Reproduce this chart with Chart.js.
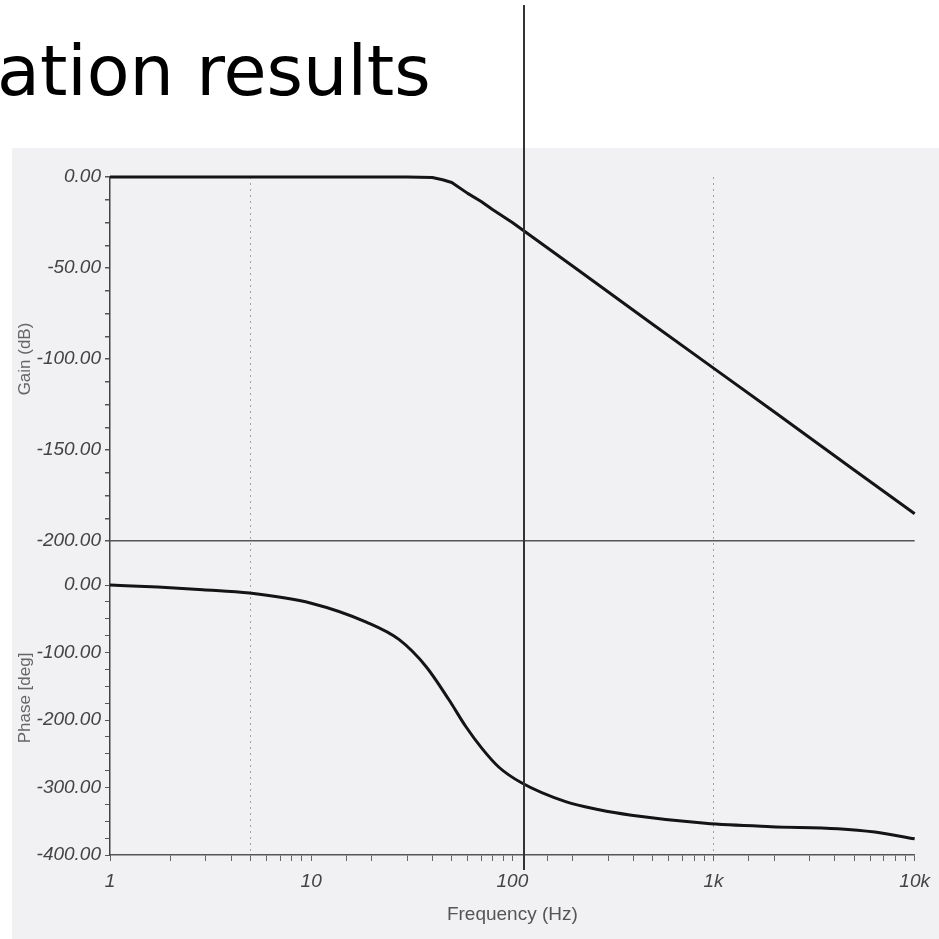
<!DOCTYPE html>
<html>
<head>
<meta charset="utf-8">
<script src="https://cdn.jsdelivr.net/npm/chart.js@4.4.1/dist/chart.umd.min.js"></script>
<style>
  html, body { margin:0; padding:0; background:#ffffff; width:939px; height:939px; overflow:hidden; }
  #scan { position:absolute; left:12px; top:148px; width:927px; height:791px; background:#f1f1f3; }
  #title { position:absolute; left:-3px; top:36px; font-family:'DejaVu Sans', sans-serif; font-size:70px; line-height:1; color:#000; white-space:nowrap; }
  #marker { position:absolute; left:523px; top:5px; width:1.5px; height:865px; background:#333; }
  #wrap { position:absolute; left:0; top:0; width:939px; height:939px; }
</style>
</head>
<body>
<div id="scan"></div>
<div id="title">ation results</div>
<div id="wrap"><canvas id="c" width="939" height="939"></canvas></div>
<div id="marker"></div>
<script>
// ---- data ----
const freqGain  = [1, 2, 5, 10, 20, 30, 40, 45, 50, 60, 70, 80, 100, 200, 500, 1000, 2000, 5000, 10000];
const gainDb    = [0, 0, 0, 0, 0, 0, -0.3, -1.5, -3, -9, -13.5, -18, -25, -49, -81, -105, -129, -161, -185];

const freqPhase = [1, 1.73, 2.89, 4.94, 10, 18.8, 27.4, 37.3, 48.4, 58.8, 70.6, 85.8, 111, 184, 270, 391, 910, 1932, 4153, 6339, 10000];
const phaseDeg  = [0, -3, -7, -12, -27, -55, -81, -121, -170, -210, -242, -270, -293, -321, -333, -341, -353, -358, -361, -366, -376];

const xTickValues = [1, 10, 100, 1000, 10000];
const xTickLabels = ['1', '10', '100', '1k', '10k'];
const xGridValues = [5, 1000];

const gainTickLabelsEvery = 50;
const phaseTickLabelsEvery = 100;

// ---- chart ----
const tickFont = { family: "'Liberation Sans Narrow', 'Liberation Sans', Arial, sans-serif", size: 19, style: 'italic' };
const titleFont = { family: "'Liberation Sans', Arial, sans-serif", size: 17 };
const near = (a, b) => Math.abs(a - b) / Math.max(Math.abs(b), 1e-9) < 1e-6;

new Chart(document.getElementById('c'), {
  type: 'line',
  data: {
    datasets: [
      {
        label: 'Phase',
        data: freqPhase.map((f, i) => ({ x: f, y: phaseDeg[i] })),
        yAxisID: 'yPhase',
        borderColor: '#141414',
        borderWidth: 3,
        pointRadius: 0,
        cubicInterpolationMode: 'monotone',
        clip: 4
      },
      {
        label: 'Gain',
        data: freqGain.map((f, i) => ({ x: f, y: gainDb[i] })),
        yAxisID: 'yGain',
        borderColor: '#141414',
        borderWidth: 3,
        pointRadius: 0,
        tension: 0,
        borderJoinStyle: 'round',
        clip: 4
      }
    ]
  },
  options: {
    responsive: false,
    animation: false,
    layout: { padding: { left: 0, top: 177, right: 22, bottom: 0 } },
    plugins: { legend: { display: false }, tooltip: { enabled: false } },
    scales: {
      x: {
        type: 'logarithmic',
        position: 'bottom',
        min: 1,
        max: 10000,
        afterFit: s => { s.height = 84; },
        border: { display: true, color: '#555', width: 1.5, dash: [2, 4] },
        grid: {
          color: ctx => (ctx.tick && xGridValues.some(v => near(ctx.tick.value, v))) ? 'rgba(110,110,110,0.6)' : 'rgba(0,0,0,0)',
          lineWidth: 1,
          tickColor: '#666',
          tickLength: 6,
          drawTicks: true
        },
        ticks: {
          autoSkip: false,
          maxRotation: 0,
          padding: 9,
          color: '#444',
          font: tickFont,
          callback: value => {
            const i = xTickValues.findIndex(v => near(value, v));
            return i >= 0 ? xTickLabels[i] : '';
          }
        },
        title: {
          display: true,
          text: 'Frequency (Hz)',
          color: '#555',
          font: { family: "'Liberation Sans Narrow', 'Liberation Sans', Arial, sans-serif", size: 19 },
          padding: { top: 0, bottom: 13 }
        }
      },
      yPhase: {
        type: 'linear',
        position: 'left',
        stack: 'bode',
        stackWeight: 314,
        min: -400,
        max: 65.2,
        afterFit: s => { s.width = 110; },
        afterBuildTicks: s => { s.ticks = s.ticks.filter(t => t.value <= 0); },
        border: { display: true, color: '#444', width: 1.5 },
        grid: { color: 'rgba(0,0,0,0)', tickColor: '#555', tickLength: 5 },
        ticks: {
          stepSize: 25,
          includeBounds: false,
          autoSkip: false,
          padding: 4,
          color: '#444',
          font: tickFont,
          callback: v => (v % phaseTickLabelsEvery === 0 ? (v === 0 ? 0 : v).toFixed(2) : '')
        },
        title: {
          display: true,
          text: 'Phase [deg]',
          color: '#666',
          font: titleFont,
          padding: { top: 15, bottom: 0 }
        }
      },
      yGain: {
        type: 'linear',
        position: 'left',
        stack: 'bode',
        stackWeight: 364,
        min: -200,
        max: 0,
        afterFit: s => { s.width = 110; },
        border: { display: true, color: '#444', width: 1.5 },
        grid: {
          color: ctx => (ctx.tick && ctx.tick.value === -200) ? '#555' : 'rgba(0,0,0,0)',
          lineWidth: 1.5,
          tickColor: '#555',
          tickLength: 5
        },
        ticks: {
          stepSize: 12.5,
          autoSkip: false,
          padding: 4,
          color: '#444',
          font: tickFont,
          callback: v => (v % gainTickLabelsEvery === 0 ? (v === 0 ? 0 : v).toFixed(2) : '')
        },
        title: {
          display: true,
          text: 'Gain (dB)',
          color: '#666',
          font: titleFont,
          padding: { top: 15, bottom: 0 }
        }
      }
    }
  }
});
</script>
</body>
</html>
